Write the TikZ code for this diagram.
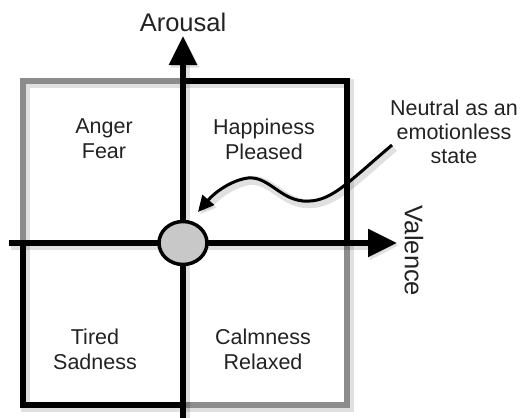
\documentclass[tikz,border=0pt]{standalone}
\usepackage{fontspec}
\setmainfont{Liberation Sans}
\usetikzlibrary{arrows.meta,shapes.geometric}
\definecolor{rimgray}{RGB}{140,140,140}
\definecolor{dotgray}{RGB}{200,200,200}
\definecolor{txt}{RGB}{34,34,34}
\begin{document}
\begin{tikzpicture}[x=1pt,y=-1pt,
  shad/.style={preaction={draw=black,opacity=0.12,line width=9pt,transform canvas={shift={(2pt,-2.5pt)}}}},
  rimg/.style={draw=rimgray,line width=6pt,line cap=rect,shad},
  rimb/.style={draw=black,line width=6pt,line cap=rect,shad},
  axis/.style={draw=black,line width=5.5pt,-{Triangle[length=29pt,width=27pt]},shad},
  quad/.style={font=\fontsize{21.5}{25}\selectfont,text=txt,align=center},
  axlabel/.style={font=\fontsize{25.5}{29}\selectfont,text=txt},
  neutral/.style={ellipse,draw=black,fill=dotgray,line width=3.5pt,minimum width=48pt,minimum height=43pt,inner sep=0pt}
]
\useasboundingbox (0,0) rectangle (520,418);
% frame coordinates
\coordinate (tl) at (23,81);
\coordinate (tm) at (183,81);
\coordinate (tr) at (347,81);
\coordinate (ml) at (23,243);
\coordinate (mr) at (347,243);
\coordinate (bl) at (23,405);
\coordinate (bm) at (183,405);
\coordinate (br) at (347,405);
% gray quadrants
\draw[rimg] (ml) -- (tl) -- (tm);
\draw[rimg] (mr) -- (br) -- (bm);
% black quadrants
\draw[rimb] (tm) -- (tr) -- (mr);
\draw[rimb] (ml) -- (bl) -- (bm);
% axes
\coordinate (vstart) at (183,422);
\coordinate (vend) at (183,36);
\coordinate (hstart) at (9,243);
\coordinate (hend) at (397,243);
\draw[axis] (vstart) -- (vend);
\draw[axis] (hstart) -- (hend);
% neutral point
\node[neutral] (n) at (183,243) {};
% labels
\node[axlabel] (arousal) at (183,22) {Arousal};
\node[axlabel,rotate=-90] (valence) at (414,251) {Valence};
\node[quad] (q1) at (104,139) {Anger\\Fear};
\node[quad] (q2) at (264,139) {Happiness\\Pleased};
\node[quad] (q3) at (95,349) {Tired\\Sadness};
\node[quad] (q4) at (263,349) {Calmness\\Relaxed};
\node[quad,font=\fontsize{21.5}{24}\selectfont] (note) at (454,132) {Neutral as an\\emotionless\\state};
% curved pointer
\coordinate (cs) at (392,145);
\coordinate (ce) at (198,212);
\draw[black,line width=3pt,-{Triangle[length=16pt,width=15pt]},shad]
  (cs) .. controls (345,185) and (330,203) .. (303,201)
       .. controls (280,199) and (268,176) .. (248,178)
       .. controls (232,180) and (215,192) .. (ce);
\end{tikzpicture}
\end{document}
